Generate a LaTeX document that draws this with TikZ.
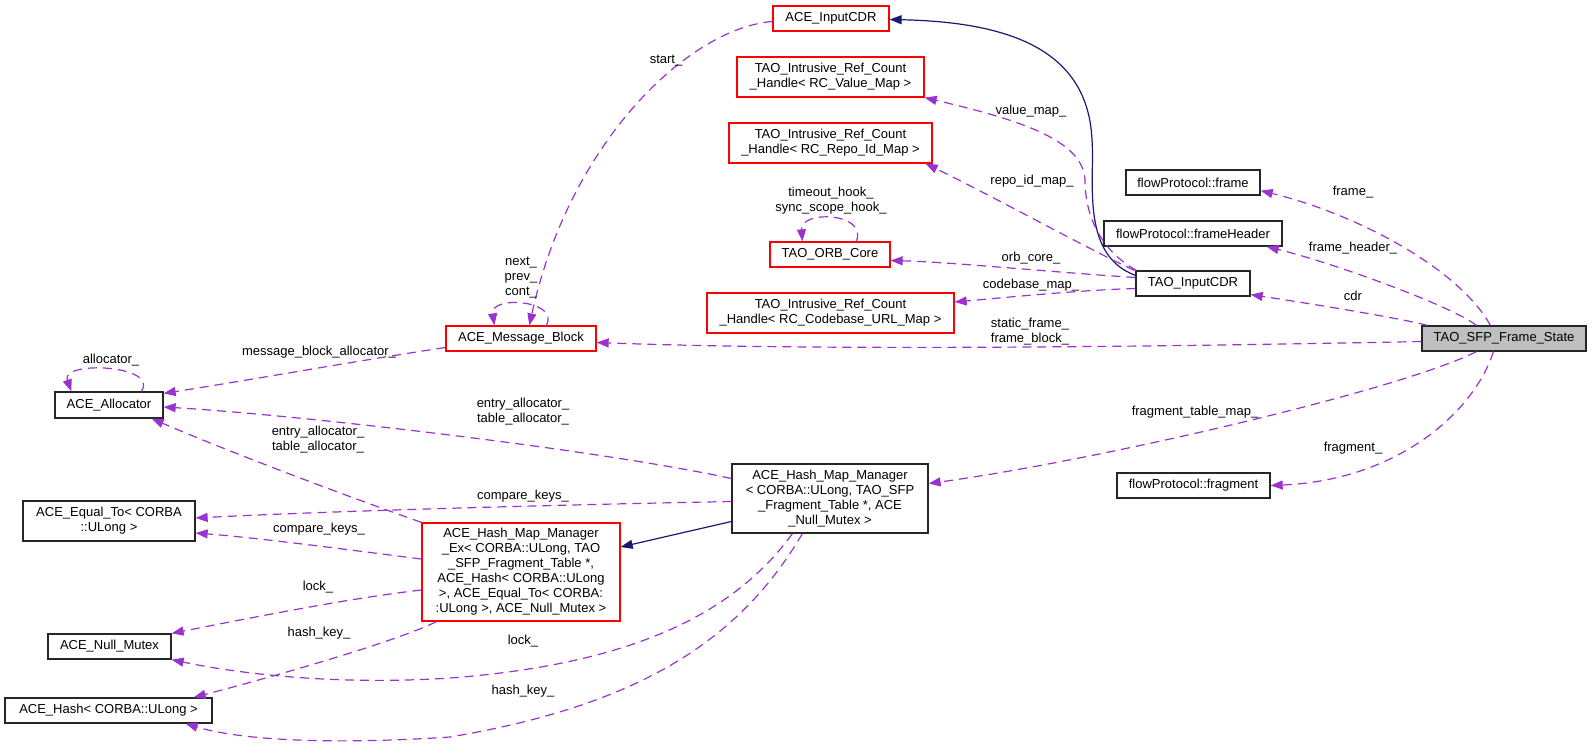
\documentclass[tikz,border=0pt]{standalone}
\usepackage{fontspec}
\setmainfont{Liberation Sans}
\usetikzlibrary{arrows.meta,calc}
\definecolor{edgepurple}{HTML}{9A32CD}
\definecolor{inhnavy}{HTML}{191970}
\definecolor{nodegray}{HTML}{BFBFBF}
\begin{document}
\begin{tikzpicture}[x=1pt,y=-1pt,
  every node/.style={font=\fontsize{13}{15}\selectfont},
  cls/.style={draw=black!85,fill=white,line width=1.3pt,inner sep=0pt,align=center},
  trunc/.style={cls,draw=red},
  mem/.style={draw=edgepurple,line width=1.2pt,dash pattern=on 9pt off 6pt,-{Triangle[length=12pt,width=9pt]}},
  inh/.style={draw=inhnavy,line width=1.2pt,-{Triangle[length=12pt,width=9pt]}},
  lbl/.style={align=center,inner sep=0pt}]
\useasboundingbox (0,0) rectangle (1592,745);

% nodes
\node[cls,fill=nodegray,minimum width=164pt,minimum height=25pt] (sfp) at (1504,338.5) {TAO\_SFP\_Frame\_State};
\node[cls,minimum width=134pt,minimum height=25pt] (frame) at (1193,182.5) {flowProtocol::frame};
\node[cls,minimum width=178pt,minimum height=25pt] (fheader) at (1193,233.5) {flowProtocol::frameHeader};
\node[cls,minimum width=114pt,minimum height=25pt] (tcdr) at (1193,283.5) {TAO\_InputCDR};
\node[cls,minimum width=153pt,minimum height=25pt] (frag) at (1193.5,485.5) {flowProtocol::fragment};
\node[trunc,minimum width=116pt,minimum height=25pt] (acdr) at (831,18.5) {ACE\_InputCDR};
\node[trunc,minimum width=187pt,minimum height=40pt] (vmap) at (830.5,77) {TAO\_Intrusive\_Ref\_Count\\\_Handle< RC\_Value\_Map >};
\node[trunc,minimum width=203pt,minimum height=40pt] (rmap) at (830.5,143) {TAO\_Intrusive\_Ref\_Count\\\_Handle< RC\_Repo\_Id\_Map >};
\node[trunc,minimum width=120pt,minimum height=25pt] (orb) at (830,254.5) {TAO\_ORB\_Core};
\node[trunc,minimum width=247pt,minimum height=40pt] (cmap) at (830.5,313) {TAO\_Intrusive\_Ref\_Count\\\_Handle< RC\_Codebase\_URL\_Map >};
\node[trunc,minimum width=150pt,minimum height=25pt] (mb) at (521,338.5) {ACE\_Message\_Block};
\node[cls,minimum width=196pt,minimum height=69pt] (hmm) at (830,498.5) {ACE\_Hash\_Map\_Manager\\< CORBA::ULong, TAO\_SFP\\\_Fragment\_Table *, ACE\\\_Null\_Mutex >};
\node[trunc,minimum width=198pt,minimum height=98pt] (hmmex) at (521,572) {ACE\_Hash\_Map\_Manager\\\_Ex< CORBA::ULong, TAO\\\_SFP\_Fragment\_Table *,\\ACE\_Hash< CORBA::ULong\\>, ACE\_Equal\_To< CORBA:\\:ULong >, ACE\_Null\_Mutex >};
\node[cls,minimum width=108pt,minimum height=26pt] (alloc) at (109,405) {ACE\_Allocator};
\node[cls,minimum width=172pt,minimum height=40pt] (eq) at (109,521) {ACE\_Equal\_To< CORBA\\::ULong >};
\node[cls,minimum width=123pt,minimum height=25pt] (nm) at (109.5,646.5) {ACE\_Null\_Mutex};
\node[cls,minimum width=207pt,minimum height=25pt] (hash) at (108.5,710.5) {ACE\_Hash< CORBA::ULong >};

% edges from TAO_SFP_Frame_State
\draw[mem] ($(sfp.north west)+(69,0)$) .. controls (1460,270) and (1360,215) .. ($(frame.south east)+(0,-5)$);
\draw[mem] ($(sfp.north west)+(55,0)$) .. controls (1450,305) and (1330,262) .. ($(fheader.south east)+(-16,0)$);
\draw[mem] ($(sfp.north west)+(6,0)$) .. controls (1400,318) and (1300,302) .. ($(tcdr.south east)+(0,-2)$);
\draw[mem] ($(sfp.west)+(0,3)$) .. controls (1100,348) and (800,350) .. ($(mb.east)+(0,4)$);
\draw[mem] ($(sfp.south west)+(55,0)$) .. controls (1400,390) and (1100,460) .. ($(hmm.east)+(0,-15)$);
\draw[mem] ($(sfp.south west)+(72,0)$) .. controls (1475,410) and (1400,480) .. (frag.east);

% edges from TAO_InputCDR
\draw[inh] ($(tcdr.north west)+(0,5)$) .. controls (1080,255) and (1095,180) .. (1092,140) .. controls (1088,50) and (1010,22) .. ($(acdr.east)+(0,1)$);
\draw[mem] ($(tcdr.north west)+(1,0)$) .. controls (1100,250) and (1085,215) .. (1085,180) .. controls (1083,140) and (1020,120) .. (vmap.south east);
\draw[mem] ($(tcdr.north west)+(-1,0)$) .. controls (1090,250) and (1000,200) .. ($(rmap.south east)+(-7,0)$);
\draw[mem] ($(tcdr.west)+(0,-6)$) .. controls (1050,272) and (950,262) .. ($(orb.east)+(0,6)$);
\draw[mem] ($(tcdr.west)+(0,5)$) .. controls (1080,290) and (1000,298) .. ($(cmap.east)+(0,-11)$);
\draw[mem] ($(orb.north west)+(87,0)$) .. controls (868,212) and (800,210) .. ($(orb.north west)+(33,0)$);

% ACE_InputCDR and ACE_Message_Block
\draw[mem] ($(acdr.west)+(0,3)$) .. controls (690,28) and (570,140) .. ($(mb.north west)+(84,0)$);
\draw[mem] ($(mb.north west)+(101,0)$) .. controls (560,300) and (490,295) .. ($(mb.north west)+(49,0)$);
\draw[mem] ($(mb.west)+(0,9)$) .. controls (350,362) and (250,380) .. ($(alloc.north east)+(0,2)$);

% ACE_Hash_Map_Manager
\draw[mem] ($(hmm.west)+(0,-20)$) .. controls (600,450) and (300,415) .. ($(alloc.east)+(0,2)$);
\draw[mem] ($(hmm.west)+(0,3)$) .. controls (600,504) and (350,510) .. ($(eq.east)+(0,-3)$);
\draw[mem] ($(hmm.south west)+(61,0)$) .. controls (730,620) and (620,665) .. (450,678) .. controls (330,686) and (230,672) .. (nm.south east);
\draw[mem] ($(hmm.south west)+(71,0)$) .. controls (740,640) and (640,705) .. (450,737) .. controls (330,745) and (240,740) .. ($(hash.south east)+(-27,0)$);
\draw[inh] ($(hmm.west)+(0,23)$) -- ($(hmmex.east)+(0,-25)$);

% ACE_Hash_Map_Manager_Ex
\draw[mem] (hmmex.north west) .. controls (330,490) and (230,452) .. ($(alloc.south east)+(-12,0)$);
\draw[mem] ($(hmmex.west)+(0,-13)$) .. controls (350,550) and (260,538) .. ($(eq.east)+(0,12)$);
\draw[mem] ($(hmmex.west)+(0,18)$) .. controls (350,598) and (250,618) .. (nm.north east);
\draw[mem] ($(hmmex.south west)+(15,0)$) .. controls (400,640) and (280,675) .. ($(hash.north east)+(-19,0)$);

% ACE_Allocator self loop
\draw[mem] ($(alloc.north west)+(87,0)$) .. controls (160,365) and (60,360) .. ($(alloc.north west)+(17,0)$);

% labels
\node[lbl] (lframe) at (1353,192) {frame\_};
\node[lbl] (lfheader) at (1353,248) {frame\_header\_};
\node[lbl] (lcdr) at (1353,296) {cdr};
\node[lbl] (lstatic) at (1030,331.5) {static\_frame\_\\frame\_block\_};
\node[lbl] (lftm) at (1195,412) {fragment\_table\_map\_};
\node[lbl] (lfrag) at (1353,448) {fragment\_};
\node[lbl] (lvmap) at (1031,111) {value\_map\_};
\node[lbl] (lrmap) at (1032,181) {repo\_id\_map\_};
\node[lbl] (lorb) at (1031,258) {orb\_core\_};
\node[lbl] (lcmap) at (1031,285) {codebase\_map\_};
\node[lbl] (lstart) at (666,61) {start\_};
\node[lbl] (lhook) at (831,201) {timeout\_hook\_\\sync\_scope\_hook\_};
\node[lbl] (lnext) at (521,278) {next\_\\prev\_\\cont\_};
\node[lbl] (lalloc) at (111,360) {allocator\_};
\node[lbl] (lmba) at (319,352) {message\_block\_allocator\_};
\node[lbl] (lea1) at (523,411.5) {entry\_allocator\_\\table\_allocator\_};
\node[lbl] (lea2) at (318,439.5) {entry\_allocator\_\\table\_allocator\_};
\node[lbl] (lck1) at (523,496) {compare\_keys\_};
\node[lbl] (lck2) at (319,529) {compare\_keys\_};
\node[lbl] (llock1) at (318,587) {lock\_};
\node[lbl] (lhk1) at (319,633) {hash\_key\_};
\node[lbl] (llock2) at (523,641) {lock\_};
\node[lbl] (lhk2) at (523,691) {hash\_key\_};
\end{tikzpicture}
\end{document}
